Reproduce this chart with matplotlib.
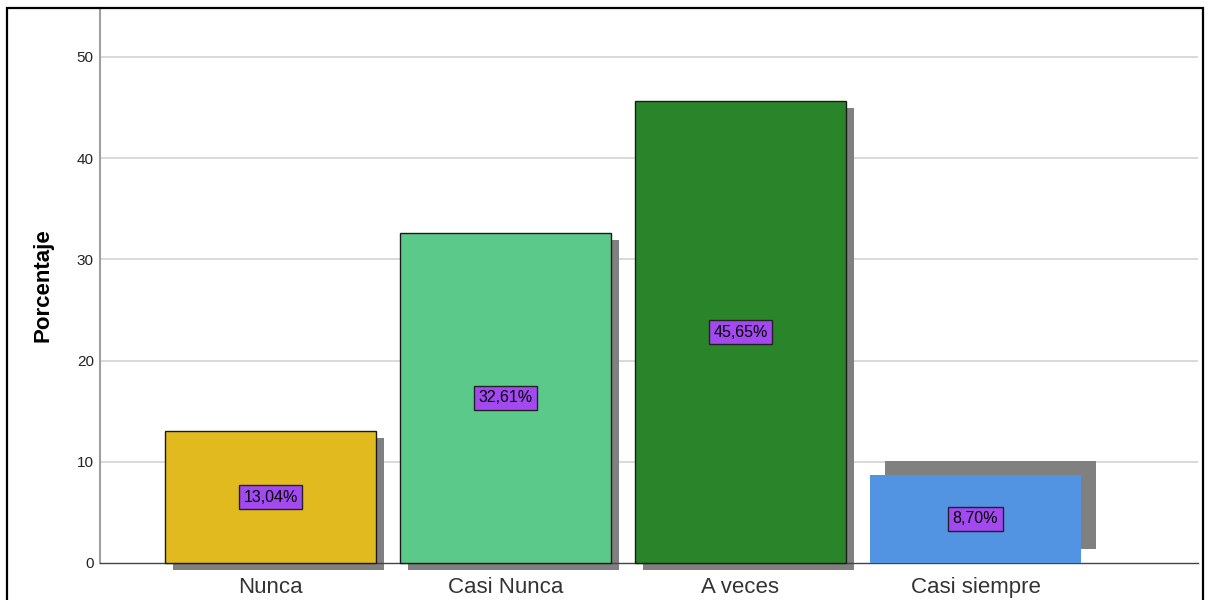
import matplotlib
matplotlib.use("Agg")
import matplotlib.pyplot as plt
from matplotlib.transforms import ScaledTranslation
from matplotlib.patches import Rectangle

plt.rcParams["font.family"] = ["Liberation Sans", "DejaVu Sans"]

categories = ["Nunca", "Casi Nunca", "A veces", "Casi siempre"]
percentages = [13.04, 32.61, 45.65, 8.70]
value_labels = ["13,04%", "32,61%", "45,65%", "8,70%"]
bar_colors = ["#E0BA1F", "#5BC98A", "#2A852A", "#5294E2"]
yticks = [0, 10, 20, 30, 40, 50]

W, H, DPI = 1208, 600, 100
fig = plt.figure(figsize=(W / DPI, H / DPI), dpi=DPI)
ax = fig.add_axes([100 / W, 1 - 563 / H, (1198 - 100) / W, (563 - 8) / H])

x = list(range(len(categories)))
bar_w = 0.898

# drop shadows, shifted in pixels relative to each bar
shadow_offsets = [(8, -7), (8, -7), (8, -7), (15, 14)]
for xi, val, (dx, dy) in zip(x, percentages, shadow_offsets):
    tr = ax.transData + ScaledTranslation(dx / DPI, dy / DPI, fig.dpi_scale_trans)
    ax.bar(xi, val, width=bar_w, color="#808080", transform=tr, zorder=2,
           clip_on=False, linewidth=0)

edges = ["#1a1a1a", "#1a1a1a", "#1a1a1a", "none"]
for xi, val, c, ec in zip(x, percentages, bar_colors, edges):
    ax.bar(xi, val, width=bar_w, color=c, edgecolor=ec, linewidth=1.0,
           zorder=3, clip_on=False)

for xi, val, lab in zip(x, percentages, value_labels):
    ax.text(xi, val / 2, lab, ha="center", va="center", fontsize=11.5,
            color="black", zorder=5,
            bbox=dict(boxstyle="square,pad=0.28", facecolor="#A349F0",
                      edgecolor="#222222", linewidth=1.0))

ax.set_xlim(-0.7255, 3.947)
ax.set_ylim(0, 54.84)
ax.set_yticks(yticks)
ax.set_yticklabels([str(t) for t in yticks], fontsize=11, color="#222222")
ax.set_xticks(x)
ax.set_xticklabels(categories, fontsize=16, color="#333333")
ax.tick_params(axis="y", length=0, pad=4.5)
ax.tick_params(axis="x", length=0, pad=10)

for t in yticks[1:]:
    ax.axhline(t, color="#D3D3D3", linewidth=1.2, zorder=1)

for s in ["top", "right"]:
    ax.spines[s].set_visible(False)
ax.spines["left"].set_color("#A0A0A0")
ax.spines["left"].set_linewidth(1.5)
ax.spines["bottom"].set_color("#444444")
ax.spines["bottom"].set_linewidth(1.0)
ax.spines["bottom"].set_zorder(2.5)

ax.set_ylabel("Porcentaje", fontsize=16, fontweight="bold", labelpad=17)

# outer frame
fig.patches.append(Rectangle((7 / W, -0.05), (1203 - 7) / W, 1.05 - 8 / H,
                             transform=fig.transFigure, fill=False,
                             edgecolor="black", linewidth=1.6))

fig.savefig("out.png", dpi=DPI)
